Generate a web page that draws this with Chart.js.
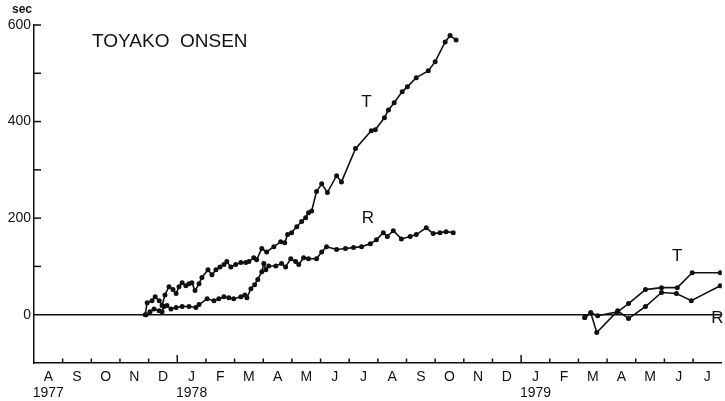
<!DOCTYPE html>
<html>
<head>
<meta charset="utf-8">
<script src="https://cdn.jsdelivr.net/npm/chart.js@4.4.1/dist/chart.umd.min.js"></script>
<style>
  html, body { margin: 0; padding: 0; background: #fff; }
  canvas { display: block; }
</style>
</head>
<body>
<canvas id="myChart" width="725" height="401"></canvas>
<script>
// x values: months since 1 Aug 1977, y values: sec
var monthLetters = ['A','S','O','N','D','J','F','M','A','M','J','J',
                    'A','S','O','N','D','J','F','M','A','M','J','J'];
var yearLabels = {0: '1977', 5: '1978', 17: '1979'};
var yTicks = [-100, 0, 100, 200, 300, 400, 500, 600];

var t1978x = [3.88,3.95,4.12,4.23,4.37,4.47,4.57,4.71,4.85,4.96,5.06,5.17,5.30,5.41,5.51,5.62,5.76,5.86,
              6.07,6.21,6.35,6.49,6.63,6.73,6.87,7.04,7.22,7.39,7.50,7.67,7.77,7.95,8.12,8.37,8.61,8.75,
              8.85,8.99,9.17,9.34,9.48,9.58,9.69,9.86,10.04,10.24,10.56,10.73,11.22,11.77,11.91,12.23,
              12.37,12.57,12.85,13.03,13.34,13.76,14.00,14.35,14.52,14.73];
var t1978y = [0,25,29,37,29,19,41,58,52,44,58,66,60,64,66,50,64,77,
              93,83,93,99,104,110,99,104,108,108,110,118,114,137,130,141,151,149,
              166,170,182,193,201,211,215,255,271,253,288,275,344,381,383,408,
              424,439,462,472,491,505,524,565,578,569];

var r1978x = [3.91,4.05,4.19,4.37,4.47,4.54,4.64,4.78,4.96,5.17,5.41,5.65,5.76,6.04,6.28,6.45,6.63,6.80,
              6.97,7.22,7.36,7.43,7.57,7.70,7.81,7.95,8.02,8.09,8.19,8.44,8.64,8.78,8.96,9.13,9.24,9.41,
              9.58,9.86,10.04,10.21,10.56,10.87,11.15,11.43,11.74,11.95,12.19,12.33,12.54,12.82,13.13,
              13.34,13.69,13.93,14.17,14.38,14.63];
var r1978y = [0,6,12,8,6,17,19,12,15,17,17,15,21,33,29,33,37,35,
              33,37,41,35,54,62,73,89,106,93,101,101,106,99,116,110,104,118,
              116,116,130,141,135,137,139,141,147,155,170,162,174,157,162,
              166,180,168,170,172,170];

var t1979x = [19.22,19.43,19.67,20.37,20.75,21.34,21.90,22.45,22.97,23.95];
var t1979y = [-6,4,-2,6,23,52,56,56,87,87];

var r1979x = [19.22,19.43,19.64,20.37,20.75,21.34,21.90,22.42,22.94,23.95];
var r1979y = [-6,4,-37,8,-8,17,46,44,29,60];

function pairs(xs, ys) {
    return xs.map(function (x, i) { return {x: x, y: ys[i]}; });
}

function lineSet(xs, ys) {
    return {
        data: pairs(xs, ys),
        showLine: true,
        borderColor: '#111',
        backgroundColor: '#111',
        borderWidth: 1.6,
        pointRadius: 1.7,
        pointHoverRadius: 1.7,
        tension: 0
    };
}

var FONT = '"Liberation Sans", Arial, sans-serif';

var decorPlugin = {
    id: 'decor',
    afterDraw: function (chart) {
        var c = chart.ctx, xs = chart.scales.x, ys = chart.scales.y, a = chart.chartArea;
        c.save();
        c.strokeStyle = '#111';
        c.fillStyle = '#111';
        c.lineWidth = 1.5;
        // zero line
        var y0 = ys.getPixelForValue(0);
        c.beginPath();
        c.moveTo(a.left, y0);
        c.lineTo(a.right, y0);
        c.stroke();
        // month ticks, pointing up from the bottom axis
        for (var m = 1; m < 24; m++) {
            var px = xs.getPixelForValue(m);
            var len = (m === 5 || m === 17) ? 8 : 4.5;
            c.beginPath();
            c.moveTo(px, a.bottom);
            c.lineTo(px, a.bottom - len);
            c.stroke();
        }
        // y ticks, pointing right
        [100, 200, 300, 400, 500, 600].forEach(function (v) {
            var py = ys.getPixelForValue(v);
            c.beginPath();
            c.moveTo(a.left, py);
            c.lineTo(a.left + 7, py);
            c.stroke();
        });
        // texts
        c.font = 'bold 12px ' + FONT;
        c.textAlign = 'center';
        c.textBaseline = 'middle';
        c.fillText('sec', 22, 10);
        c.font = '19px ' + FONT;
        c.textAlign = 'left';
        c.fillText('TOYAKO  ONSEN', 92, 42);
        c.font = '17px ' + FONT;
        c.textAlign = 'center';
        [['T', 11.6, 440], ['R', 11.65, 200], ['T', 22.45, 120], ['R', 23.85, -7]].forEach(function (l) {
            c.fillText(l[0], xs.getPixelForValue(l[1]), ys.getPixelForValue(l[2]));
        });
        c.restore();
    }
};

var ctx = document.getElementById('myChart').getContext('2d');
var myChart = new Chart(ctx, {
    type: 'scatter',
    data: {
        datasets: [
            lineSet(t1978x, t1978y),
            lineSet(r1978x, r1978y),
            lineSet(t1979x, t1979y),
            lineSet(r1979x, r1979y)
        ]
    },
    options: {
        responsive: false,
        animation: false,
        layout: { padding: { top: 25, right: 0, left: 0, bottom: 0 } },
        plugins: { legend: { display: false }, tooltip: { enabled: false } },
        scales: {
            x: {
                type: 'linear',
                min: 0,
                max: 24,
                afterFit: function (s) { s.height = 38; },
                afterBuildTicks: function (s) {
                    s.ticks = monthLetters.map(function (l, i) { return {value: i + 0.5}; });
                },
                grid: { display: false, drawTicks: false, tickLength: 0 },
                border: { display: true, color: '#111', width: 1.5 },
                ticks: {
                    autoSkip: false,
                    maxRotation: 0,
                    padding: 6,
                    color: '#111',
                    font: { family: FONT, size: 14, lineHeight: 1.15 },
                    callback: function (v) {
                        var i = Math.floor(v);
                        var lab = monthLetters[i];
                        return yearLabels[i] ? [lab, yearLabels[i]] : lab;
                    }
                }
            },
            y: {
                min: -100,
                max: 600,
                afterFit: function (s) { s.width = 34; },
                afterBuildTicks: function (s) {
                    s.ticks = yTicks.map(function (v) { return {value: v}; });
                },
                grid: { display: false, drawTicks: false, tickLength: 0 },
                border: { display: true, color: '#111', width: 1.5 },
                ticks: {
                    padding: 3,
                    color: '#111',
                    font: { family: FONT, size: 14 },
                    callback: function (v) {
                        return (v >= 0 && v % 200 === 0) ? String(v) : '';
                    }
                }
            }
        }
    },
    plugins: [decorPlugin]
});
</script>
</body>
</html>
